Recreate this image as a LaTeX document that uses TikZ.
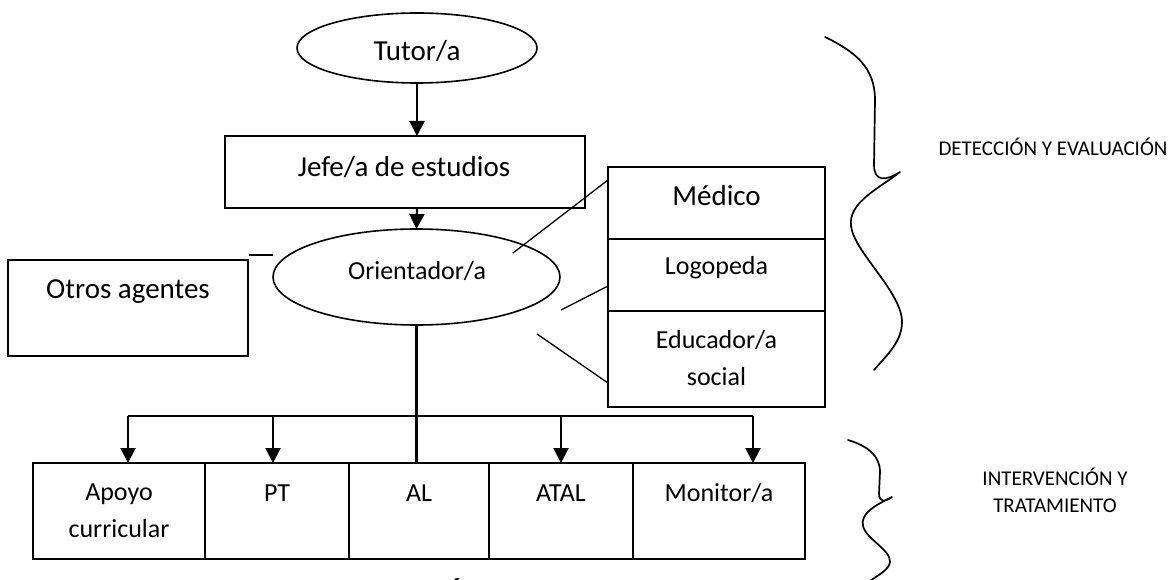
\documentclass[tikz,border=0pt]{standalone}
\usepackage{fontspec}
\setmainfont{Carlito}
\usetikzlibrary{shapes.geometric,arrows.meta}
\tikzset{
  box/.style={draw, line width=1.2pt, inner sep=0pt, outer sep=0pt},
  oval/.style={draw, ellipse, line width=1.6pt, inner sep=0pt, outer sep=0pt},
  bigtxt/.style={font=\fontsize{29}{35}\selectfont, inner sep=0pt},
  midtxt/.style={font=\fontsize{26}{37}\selectfont, inner sep=0pt, align=center},
  sidetxt/.style={font=\fontsize{21}{27}\selectfont, inner sep=0pt, align=center},
  arr/.style={line width=2.2pt, -{Triangle[width=15pt,length=15pt]}},
  trunk/.style={line width=2.2pt},
  link/.style={line width=1.3pt},
  bracepath/.style={line width=1.7pt, line cap=round, line join=round},
}
\begin{document}
\begin{tikzpicture}[x=1pt,y=-1pt]
\useasboundingbox[fill=white] (0,0) rectangle (1172,580);

% top part
\node[oval, minimum width=240pt, minimum height=70pt] (tutor) at (417,48) {};
\node[bigtxt] (tutort) at (417,51) {Tutor/a};
\node[box, minimum width=360pt, minimum height=72pt] (jefe) at (405,172) {};
\node[bigtxt] (jefet) at (404,167) {Jefe/a de estudios};
\node[oval, minimum width=287pt, minimum height=96pt] (orient) at (416.5,277) {};
\node[midtxt] (orientt) at (417,271) {Orientador/a};

\node[box, minimum width=240pt, minimum height=96pt] (otros) at (128,308) {};
\node[bigtxt] (otrost) at (128,292) {Otros agentes};

% right stack
\node[box, minimum width=217pt, minimum height=72pt] (medico) at (716.5,203) {};
\node[box, minimum width=217pt, minimum height=72pt] (logo) at (716.5,275) {};
\node[box, minimum width=217pt, minimum height=96pt] (educ) at (716.5,359) {};
\node[bigtxt] (medicot) at (716.5,196) {Médico};
\node[midtxt] (logot) at (716.5,268) {Logopeda};
\node[midtxt] (educt) at (716.5,358) {Educador/a\\social};

% bottom row
\node[box, minimum width=172pt, minimum height=96pt] (apoyo) at (119,511) {};
\node[box, minimum width=144pt, minimum height=96pt] (pt) at (277,511) {};
\node[box, minimum width=140pt, minimum height=96pt] (al) at (419,511) {};
\node[box, minimum width=144pt, minimum height=96pt] (atal) at (561,511) {};
\node[box, minimum width=172pt, minimum height=96pt] (monitor) at (719,511) {};
\node[midtxt] (apoyot) at (119,511) {Apoyo\\curricular};
\node[midtxt] (ptt) at (277,493) {PT};
\node[midtxt] (alt) at (419,493) {AL};
\node[midtxt] (atalt) at (561,493) {ATAL};
\node[midtxt] (monitort) at (719,493) {Monitor/a};

% side labels
\node[sidetxt] (det) at (1053,147) {DETECCIÓN Y EVALUACIÓN};
\node[sidetxt] (interv) at (1055,490) {INTERVENCIÓN Y\\TRATAMIENTO};

% cut caption at the bottom
\node[font=\bfseries\fontsize{26}{30}\selectfont, inner sep=0pt, anchor=base] (capt) at (455,600) {Á};

% connectors
\draw[arr] (tutor.south) -- (tutor.south |- jefe.north);
\draw[arr] (tutor.south |- jefe.south) -- (orient.north);
\coordinate (sl1) at (249,255);
\coordinate (sl2) at (273,255);
\draw[link] (sl1) -- (sl2);

\coordinate (f1) at (513,253);
\coordinate (f2) at (561,310);
\coordinate (f3) at (537,334);
\draw[link] (f1) -- (medico.west |- 0,180);
\draw[link] (f2) -- (logo.west |- 0,286);
\draw[link] (f3) -- (educ.west |- 0,383);

\draw[trunk] (orient.south) -- (orient.south |- al.north);
\coordinate (hl) at (128,416);
\coordinate (hr) at (753,416);
\draw[trunk] (hl) -- (hr);
\draw[arr] (hl) -- (hl |- apoyo.north);
\draw[arr] (273,416) -- (273,463);
\draw[arr] (561,416) -- (561,463);
\draw[arr] (hr) -- (hr |- monitor.north);

% braces
\draw[bracepath] (825,37) .. controls (856,52) and (875,68) .. (875,100)
  -- (874,165) .. controls (874,182) and (886,181) .. (900,172)
  .. controls (880,188) and (848,202) .. (851,226)
  .. controls (854,252) and (902,292) .. (902,322)
  .. controls (902,342) and (886,356) .. (874,370);
\draw[bracepath] (848,440) .. controls (868,446) and (880,456) .. (880,472)
  -- (879,493) .. controls (879,503) and (885,502) .. (892,497)
  .. controls (876,505) and (860,513) .. (863,526)
  .. controls (866,539) and (891,550) .. (890,562)
  .. controls (889,570) and (878,575) .. (870,581);
\end{tikzpicture}
\end{document}
